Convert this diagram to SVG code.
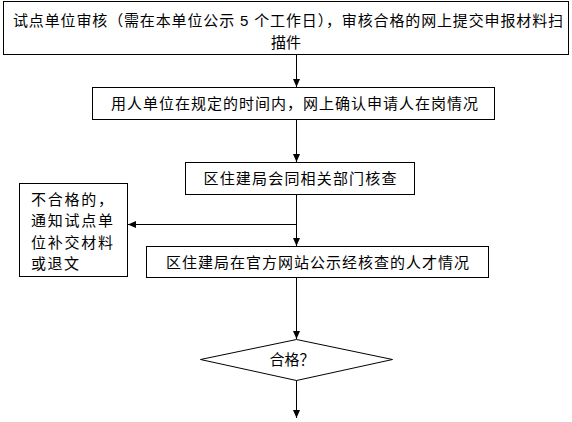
<svg xmlns="http://www.w3.org/2000/svg" width="572" height="422" viewBox="0 0 572 422">
<style>
.box{fill:#fff;stroke:#000;stroke-width:1}
.t{font-family:"Liberation Sans","Noto Sans CJK SC",sans-serif;font-size:15px;fill:#000}
.c{text-anchor:middle}
.ln{stroke:#000;stroke-width:1;fill:none}
</style>
<defs>
<marker id="ah" viewBox="0 0 8 8" refX="8" refY="4" markerWidth="8" markerHeight="8" markerUnits="userSpaceOnUse" orient="auto">
<path d="M0,0.5 L8,4 L0,7.5 Z" fill="#000"/>
</marker>
</defs>
<rect width="572" height="422" fill="#fff"/>
<g id="connectors">
<line class="ln" x1="296.5" y1="54" x2="296.5" y2="87" marker-end="url(#ah)"/>
<line class="ln" x1="296.5" y1="119" x2="296.5" y2="162" marker-end="url(#ah)"/>
<line class="ln" x1="296.5" y1="194" x2="296.5" y2="246" marker-end="url(#ah)"/>
<line class="ln" x1="296.5" y1="224.5" x2="128" y2="224.5" marker-end="url(#ah)"/>
<line class="ln" x1="296.5" y1="277" x2="296.5" y2="339" marker-end="url(#ah)"/>
<line class="ln" x1="296.5" y1="380" x2="296.5" y2="418" marker-end="url(#ah)"/>
</g>
<g id="n1">
<rect class="box" x="3.5" y="1.5" width="565" height="53"/>
<text class="t c" x="288" y="26" textLength="550" lengthAdjust="spacing">试点单位审核（需在本单位公示 5 个工作日），审核合格的网上提交申报材料扫</text>
<text class="t c" x="286" y="48">描件</text>
</g>
<g id="n2">
<rect class="box" x="92.5" y="87.5" width="402" height="32"/>
<text class="t c" x="294.5" y="109" textLength="367" lengthAdjust="spacing">用人单位在规定的时间内，网上确认申请人在岗情况</text>
</g>
<g id="n3">
<rect class="box" x="185.5" y="162.5" width="229" height="32"/>
<text class="t c" x="300" y="184" textLength="193" lengthAdjust="spacing">区住建局会同相关部门核查</text>
</g>
<g id="n4">
<rect class="box" x="19.5" y="183.5" width="108" height="93"/>
<text class="t" x="31" y="205" textLength="82" lengthAdjust="spacing">不合格的，</text>
<text class="t" x="31" y="226" textLength="82" lengthAdjust="spacing">通知试点单</text>
<text class="t" x="31" y="248" textLength="82" lengthAdjust="spacing">位补交材料</text>
<text class="t" x="31" y="269" textLength="48" lengthAdjust="spacing">或退文</text>
</g>
<g id="n5">
<rect class="box" x="146.5" y="246.5" width="342" height="31"/>
<text class="t c" x="317.5" y="268" textLength="303" lengthAdjust="spacing">区住建局在官方网站公示经核查的人才情况</text>
</g>
<g id="n6">
<polygon class="box" points="296.5,339.5 392.5,359.5 296.5,380.5 200.5,359.5"/>
<text class="t c" x="292" y="365">合格？</text>
</g>
</svg>
